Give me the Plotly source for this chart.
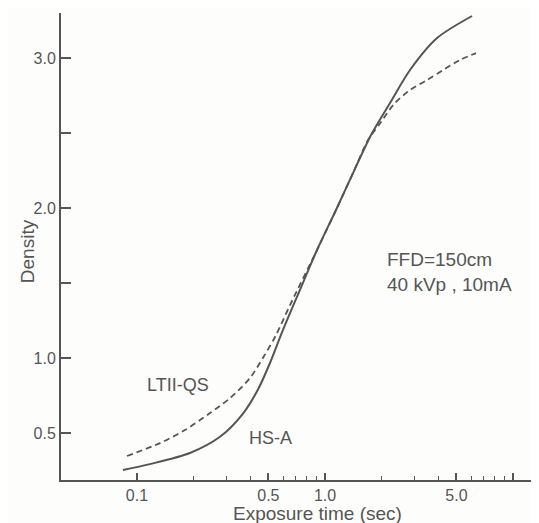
import math
import plotly.graph_objects as go

# HS-A (solid)
hs_x = [0.0842, 0.1172, 0.1913, 0.2763, 0.3664, 0.4401, 0.5098, 0.5977, 0.7274, 0.9067, 1.144, 1.409, 1.757, 2.217, 2.832, 3.943, 6.052]
hs_y = [0.253, 0.293, 0.367, 0.475, 0.63, 0.79, 0.967, 1.187, 1.44, 1.72, 1.987, 2.233, 2.487, 2.70, 2.92, 3.133, 3.28]

# LTII-QS (dashed)
lt_x = [0.0885, 0.1325, 0.18, 0.2445, 0.3125, 0.399, 0.4737, 0.5488, 0.6515, 0.9067, 1.144, 1.409, 1.693, 1.986, 2.328, 2.832, 3.488, 4.243, 5.227, 6.357]
lt_y = [0.347, 0.433, 0.52, 0.633, 0.733, 0.867, 1.013, 1.153, 1.353, 1.72, 1.987, 2.233, 2.453, 2.573, 2.693, 2.787, 2.853, 2.92, 2.987, 3.033]

x_major = [0.1, 0.5, 1.0, 5.0, 10.0]
x_major_text = ["0.1", "0.5", "1.0", "5.0", ""]
x_minor = [0.2, 0.3, 0.4, 0.6, 0.7, 0.8, 0.9, 2, 3, 4, 6, 7, 8, 9]
y_ticks = [0.5, 1.0, 1.5, 2.0, 2.5, 3.0]
y_text = ["0.5", "1.0", "", "2.0", "", "3.0"]

ink = "#555555"
font = "Liberation Sans, Arial, sans-serif"

fig = go.Figure()
fig.add_trace(go.Scatter(x=lt_x, y=lt_y, mode="lines",
                         line=dict(color=ink, width=1.8, dash="6px,4px", shape="spline", smoothing=0.8),
                         showlegend=False))
fig.add_trace(go.Scatter(x=hs_x, y=hs_y, mode="lines",
                         line=dict(color=ink, width=2, shape="spline", smoothing=0.8),
                         showlegend=False))

fig.add_annotation(x=math.log10(0.166), y=0.82, xref="x", yref="y", text="LTII-QS", showarrow=False,
                   font=dict(family=font, size=18, color=ink))
fig.add_annotation(x=math.log10(0.51), y=0.467, xref="x", yref="y", text="HS-A", showarrow=False,
                   font=dict(family=font, size=18, color=ink))
fig.add_annotation(x=math.log10(2.08), y=1.573, xref="x", yref="y", xanchor="left", yanchor="middle",
                   text="FFD=150cm<br>40 kVp , 10mA", align="left",
                   showarrow=False, font=dict(family=font, size=19, color=ink))
fig.add_annotation(x=-0.0711, y=0.49, xref="paper", yref="paper", xanchor="center", yanchor="middle",
                   text="Density", textangle=-90,
                   showarrow=False, font=dict(family=font, size=19, color=ink))
fig.add_annotation(x=0.5356, y=-0.0728, xref="paper", yref="paper", xanchor="center", yanchor="middle",
                   text="Exposure time (sec)",
                   showarrow=False, font=dict(family=font, size=19, color=ink))

fig.update_layout(
    width=531, height=515,
    margin=dict(l=53, r=0, t=5, b=43),
    paper_bgcolor="#fdfdfb", plot_bgcolor="#fdfdfb",
    font=dict(family=font, color=ink),
    xaxis=dict(type="log", range=[-1.404, 1.138], showgrid=False, zeroline=False, automargin=False,
               showline=True, linecolor=ink, linewidth=2,
               tickmode="array", tickvals=x_major, ticktext=x_major_text,
               ticks="inside", ticklen=7, tickwidth=1.5, tickcolor=ink,
               tickfont=dict(size=16, color=ink),
               minor=dict(tickvals=x_minor, ticks="inside", ticklen=4, tickwidth=1.2, tickcolor=ink)),
    yaxis=dict(range=[0.187, 3.30], showgrid=False, zeroline=False, automargin=False,
               showline=True, linecolor=ink, linewidth=2,
               tickmode="array", tickvals=y_ticks, ticktext=y_text,
               ticks="inside", ticklen=10, tickwidth=1.5, tickcolor=ink,
               tickfont=dict(size=16, color=ink)),
)

fig.write_html("out.html")
